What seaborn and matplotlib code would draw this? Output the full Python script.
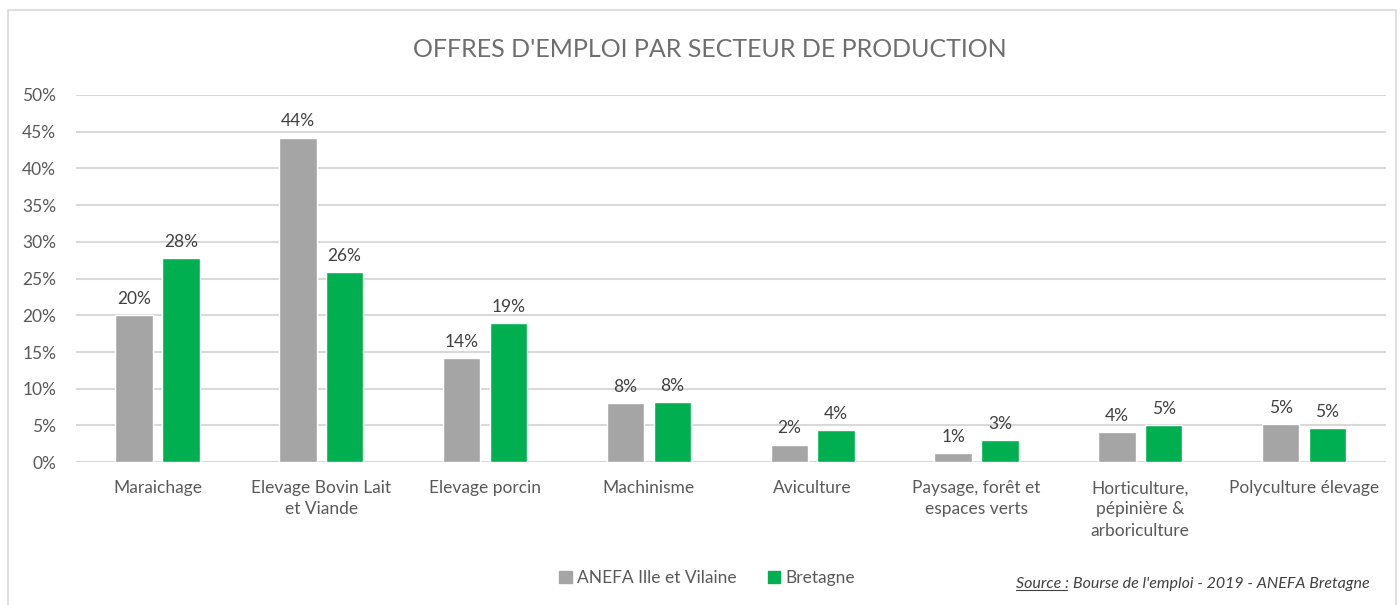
import pandas as pd
import matplotlib.pyplot as plt
import matplotlib.patches as mpatches
import seaborn as sns

# Données (en %)
secteurs = ["Maraichage", "Elevage Bovin Lait\net Viande", "Elevage porcin", "Machinisme",
            "Aviculture", "Paysage, forêt et\nespaces verts", "Horticulture,\npépinière &\narboriculture",
            "Polyculture élevage"]
anefa_ille_vilaine = [20.0, 44.2, 14.2, 8.0, 2.4, 1.2, 4.1, 5.2]
bretagne = [27.8, 25.9, 18.9, 8.2, 4.4, 3.0, 5.0, 4.6]
series = ["ANEFA Ille et Vilaine", "Bretagne"]
couleurs = ["#A5A5A5", "#00B050"]

df = pd.DataFrame({
    "secteur": secteurs * 2,
    "serie": [series[0]] * len(secteurs) + [series[1]] * len(secteurs),
    "valeur": anefa_ille_vilaine + bretagne,
})

sns.set_style("white")
plt.rcParams["font.family"] = ["Lato", "DejaVu Sans"]

fig = plt.figure(figsize=(14, 6.05), dpi=100)
ax = fig.add_axes([0.054, 0.236, 0.936, 0.607])

sns.barplot(data=df, x="secteur", y="valeur", hue="serie", palette=couleurs,
            width=0.57, gap=0.2, ax=ax, legend=False, saturation=1)

for cont in ax.containers:
    ax.bar_label(cont, labels=[f"{v:.0f}%" for v in cont.datavalues],
                 padding=6, fontsize=12.5, color="#404040")

ax.set_ylim(0, 50)
ax.set_yticks(range(0, 51, 5))
ax.set_yticklabels([f"{t}%" for t in range(0, 51, 5)], fontsize=12.5, color="#595959")
ax.set_xlim(-0.5, len(secteurs) - 0.5)
ax.tick_params(axis="x", labelsize=12.5, labelcolor="#595959", pad=13, length=0)
for t in ax.get_xticklabels():
    t.set_linespacing(1.4)
ax.tick_params(axis="y", length=0, pad=14)
ax.set_xlabel("")
ax.set_ylabel("")
ax.grid(axis="y", color="#D9D9D9", linewidth=1.5)
ax.set_axisbelow(True)
for s in ax.spines.values():
    s.set_visible(False)

fig.text(0.507, 0.918, "OFFRES D'EMPLOI PAR SECTEUR DE PRODUCTION", ha="center", va="center",
         fontsize=18, color="#6E6E6E")

# Légende
handles = [mpatches.Patch(color=c, label=l) for c, l in zip(couleurs, series)]
fig.legend(handles=handles, loc="center", bbox_to_anchor=(0.505, 0.045), ncol=2, frameon=False,
           fontsize=12.5, labelcolor="#595959", handlelength=0.7, handleheight=0.7,
           handletextpad=0.3, columnspacing=1.8)

# Source
src = fig.text(0.978, 0.035, "Bourse de l'emploi - 2019 - ANEFA Bretagne", ha="right", va="center",
               fontsize=11.5, style="italic", color="#404040")
fig.canvas.draw()
bb = src.get_window_extent().transformed(fig.transFigure.inverted())
lab = fig.text(bb.x0, 0.035, "Source : ", ha="right", va="center",
               fontsize=11.5, style="italic", color="#404040")
fig.canvas.draw()
bb2 = lab.get_window_extent().transformed(fig.transFigure.inverted())
fig.add_artist(plt.Line2D([bb2.x0, bb2.x1 - 0.004], [bb2.y0 + 0.002, bb2.y0 + 0.002],
                          transform=fig.transFigure, color="#404040", linewidth=0.8))

# Cadre
fig.add_artist(mpatches.Rectangle((0.006, -0.01), 0.991, 0.993, transform=fig.transFigure,
                                  fill=False, edgecolor="#D9D9D9", linewidth=1.2))

fig.savefig("out.png", dpi=100)
